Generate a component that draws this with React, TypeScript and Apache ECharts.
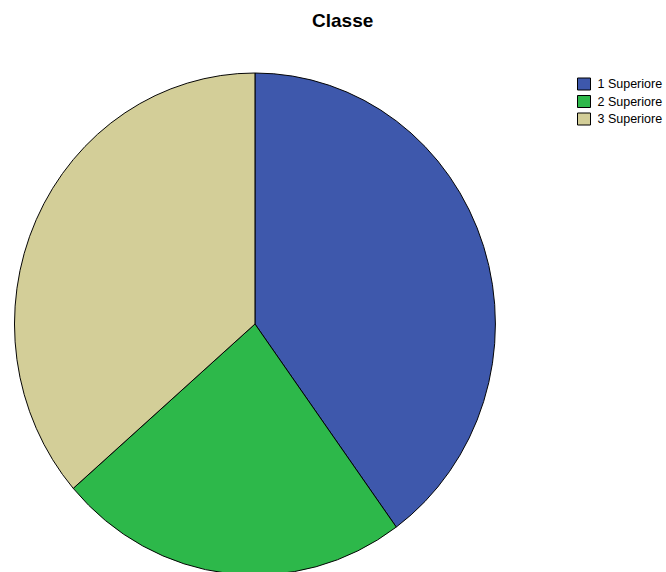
import React, { useEffect, useRef } from "react";
import * as echarts from "echarts";

const categories = ["1 Superiore", "2 Superiore", "3 Superiore"];
const counts = [22, 13, 20];
const colors = ["#3e58ac", "#2db84a", "#d3ce98"];
const titleText = "Classe";

export default function App() {
  const ref = useRef<HTMLDivElement>(null);
  useEffect(() => {
    if (!ref.current) return;
    const chart = echarts.init(ref.current, null, { renderer: "svg" });
    const total = counts.reduce((a, b) => a + b, 0);
    const cx = 255;
    const cy = 324;
    const ry = 251;
    const rx = 240.5;
    const series = categories.map((name, i) => {
      const before = counts.slice(0, i).reduce((a, b) => a + b, 0);
      return {
        type: "custom",
        name,
        coordinateSystem: "none",
        itemStyle: { color: colors[i] },
        data: [[counts[i], before]],
        renderItem: (params: any, api: any) => {
          const v = api.value(0);
          const b = api.value(1);
          const start = -Math.PI / 2 + (b / total) * Math.PI * 2;
          const end = -Math.PI / 2 + ((b + v) / total) * Math.PI * 2;
          return {
            type: "sector",
            shape: { cx, cy, r: ry, r0: 0, startAngle: start, endAngle: end, clockwise: true },
            originX: cx,
            originY: cy,
            scaleX: rx / ry,
            style: { fill: colors[i], stroke: "#000", lineWidth: 1, strokeNoScale: true },
          };
        },
      };
    });
    chart.setOption({
      animation: false,
      title: {
        text: titleText,
        left: 312,
        top: 11,
        padding: 0,
        textStyle: { fontFamily: "Liberation Sans, Arial, sans-serif", fontSize: 19, fontWeight: "bold", color: "#000" },
      },
      legend: {
        orient: "vertical",
        left: 577,
        top: 77.5,
        padding: 0,
        itemWidth: 13,
        itemHeight: 12,
        itemGap: 4.5,
        icon: "rect",
        data: categories,
        selectedMode: false,
        itemStyle: { borderColor: "#000", borderWidth: 1 },
        textStyle: { fontFamily: "Liberation Sans, Arial, sans-serif", fontSize: 12.5, color: "#000", padding: [0, 0, 0, 2] },
      },
      series,
    });
    return () => chart.dispose();
  }, []);
  return <div ref={ref} style={{ position: "absolute", left: 0, top: 0, width: 666, height: 572 }} />;
}
